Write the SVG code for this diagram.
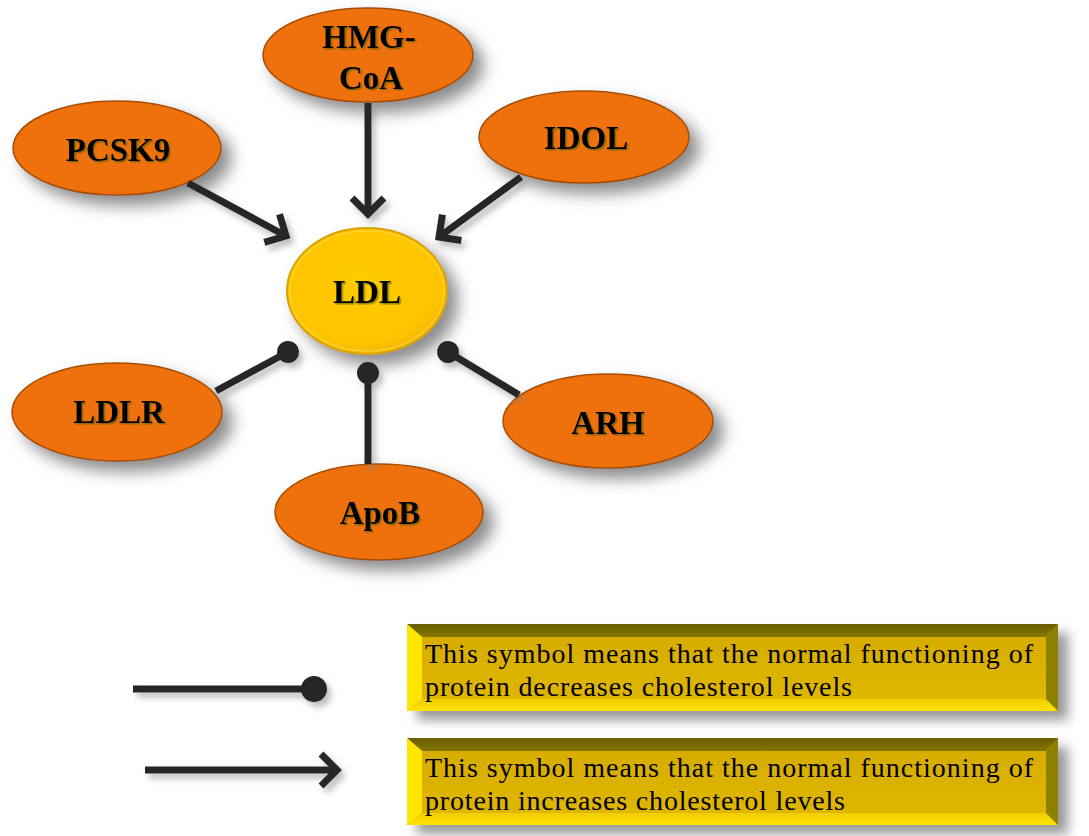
<svg xmlns="http://www.w3.org/2000/svg" width="1089" height="836" viewBox="0 0 1089 836">
<style>
.node{fill:#ee7110;stroke:#a54e00;stroke-width:1.5}
.lbl{font-family:"Liberation Serif","Times New Roman",serif;font-weight:bold;font-size:33px;fill:#000;text-anchor:middle}
.conn{stroke:#262626;stroke-width:7;fill:none}
.leg{font-family:"Liberation Serif","Times New Roman",serif;font-size:28px;fill:#000}
</style>
<defs>
<filter id="sh" x="-30%" y="-30%" width="170%" height="180%">
<feDropShadow dx="10" dy="10" stdDeviation="8" flood-color="#666666" flood-opacity="0.75"/>
</filter>
<filter id="csh" x="-30%" y="-30%" width="170%" height="170%">
<feDropShadow dx="4" dy="5" stdDeviation="3" flood-color="#7a7a7a" flood-opacity="0.5"/>
</filter>
<filter id="bsh" x="-10%" y="-30%" width="125%" height="170%">
<feDropShadow dx="10" dy="9" stdDeviation="6" flood-color="#7f7f7f" flood-opacity="0.8"/>
</filter>
<filter id="tsh" x="-10%" y="-20%" width="130%" height="150%">
<feDropShadow dx="1.5" dy="1.5" stdDeviation="0.6" flood-color="#4d5a00" flood-opacity="0.6"/>
</filter>
<radialGradient id="ldlg" cx="45%" cy="40%" r="60%">
<stop offset="0" stop-color="#ffcb00"/>
<stop offset="0.85" stop-color="#ffc400"/>
<stop offset="1" stop-color="#f2b800"/>
</radialGradient>
<linearGradient id="topb" x1="0" y1="0" x2="0" y2="1">
<stop offset="0" stop-color="#675d00"/>
<stop offset="1" stop-color="#857700"/>
</linearGradient>
<linearGradient id="botb" x1="0" y1="0" x2="0" y2="1">
<stop offset="0" stop-color="#f0cc00"/>
<stop offset="1" stop-color="#ffe400"/>
</linearGradient>
<linearGradient id="face" x1="0" y1="0" x2="0" y2="1">
<stop offset="0" stop-color="#d6ad00"/>
<stop offset="1" stop-color="#dfb600"/>
</linearGradient>
<marker id="arr" markerUnits="userSpaceOnUse" viewBox="-30 -25 40 50" markerWidth="40" markerHeight="50" refX="0" refY="0" orient="auto" overflow="visible">
<path d="M-16,-16 L0,0 L-16,16" fill="none" stroke="#262626" stroke-width="7"/>
</marker>
<marker id="dot" markerUnits="userSpaceOnUse" viewBox="-15 -15 30 30" markerWidth="30" markerHeight="30" refX="0" refY="0" orient="auto" overflow="visible">
<circle r="11" fill="#262626"/>
</marker>
<marker id="dotL" markerUnits="userSpaceOnUse" viewBox="-15 -15 30 30" markerWidth="30" markerHeight="30" refX="0" refY="0" orient="auto" overflow="visible">
<circle r="13" fill="#262626"/>
</marker>
<g id="bevel">
<rect x="0" y="0" width="651" height="87" fill="#d8b000"/>
<polygon points="0,0 651,0 639,13 15,13" fill="url(#topb)"/>
<polygon points="0,0 15,13 15,75 0,87" fill="#ffe600"/>
<polygon points="0,87 15,75 639,75 651,87" fill="url(#botb)"/>
<polygon points="651,0 651,87 639,75 639,13" fill="#8c8000"/>
<rect x="15" y="13" width="624" height="62" fill="url(#face)"/>
</g>
</defs>
<rect width="1089" height="836" fill="#ffffff"/>

<g id="node-hmgcoa">
<ellipse class="node" cx="368" cy="55" rx="105" ry="47" filter="url(#sh)"/>
<text class="lbl" x="369" y="48" filter="url(#tsh)">HMG-</text>
<text class="lbl" x="371" y="89" filter="url(#tsh)">CoA</text>
</g>
<g id="node-pcsk9">
<ellipse class="node" cx="117" cy="148" rx="104" ry="47" filter="url(#sh)"/>
<text class="lbl" x="118" y="161" filter="url(#tsh)">PCSK9</text>
</g>
<g id="node-idol">
<ellipse class="node" cx="584" cy="137" rx="105" ry="46" filter="url(#sh)"/>
<text class="lbl" x="586" y="149" filter="url(#tsh)">IDOL</text>
</g>
<g id="node-ldl">
<ellipse cx="367" cy="291" rx="80" ry="63" fill="url(#ldlg)" stroke="#d9a200" stroke-width="2" filter="url(#sh)"/>
<ellipse cx="367" cy="291" rx="77" ry="60" fill="none" stroke="#ffdb4d" stroke-width="1.5" opacity="0.6"/>
<text class="lbl" x="367" y="303" filter="url(#tsh)">LDL</text>
</g>
<g id="node-ldlr">
<ellipse class="node" cx="117" cy="412" rx="105" ry="49" filter="url(#sh)"/>
<text class="lbl" x="119" y="423" filter="url(#tsh)">LDLR</text>
</g>
<g id="node-apob">
<ellipse class="node" cx="379" cy="512" rx="104" ry="48" filter="url(#sh)"/>
<text class="lbl" x="380" y="524" filter="url(#tsh)">ApoB</text>
</g>
<g id="node-arh">
<ellipse class="node" cx="608" cy="421" rx="105" ry="47" filter="url(#sh)"/>
<text class="lbl" x="608" y="434" filter="url(#tsh)">ARH</text>
</g>

<g id="connectors" filter="url(#csh)">
<line class="conn" x1="368" y1="103" x2="368" y2="214" marker-end="url(#arr)"/>
<line class="conn" x1="188" y1="183" x2="286" y2="236" marker-end="url(#arr)"/>
<line class="conn" x1="521" y1="177" x2="439" y2="237" marker-end="url(#arr)"/>
<line class="conn" x1="216" y1="391" x2="288" y2="352" marker-end="url(#dot)"/>
<line class="conn" x1="368" y1="464" x2="368" y2="373" marker-end="url(#dot)"/>
<line class="conn" x1="519" y1="395" x2="448" y2="352" marker-end="url(#dot)"/>
</g>

<g id="legend">
<g id="legend-symbols" filter="url(#csh)">
<line class="conn" x1="133" y1="689" x2="314" y2="689" marker-end="url(#dotL)"/>
<line class="conn" x1="145" y1="770" x2="337" y2="770" marker-end="url(#arr)"/>
</g>
<g id="legend-box1">
<use href="#bevel" x="407" y="624" filter="url(#bsh)"/>
<text class="leg" x="425" y="663" textLength="608" lengthAdjust="spacing">This symbol means that the normal functioning of</text>
<text class="leg" x="425" y="696" textLength="427" lengthAdjust="spacing">protein decreases  cholesterol  levels</text>
</g>
<g id="legend-box2">
<use href="#bevel" x="407" y="738" filter="url(#bsh)"/>
<text class="leg" x="425" y="777" textLength="608" lengthAdjust="spacing">This symbol means that the normal functioning of</text>
<text class="leg" x="425" y="810" textLength="420" lengthAdjust="spacing">protein increases  cholesterol  levels</text>
</g>
</g>
</svg>
